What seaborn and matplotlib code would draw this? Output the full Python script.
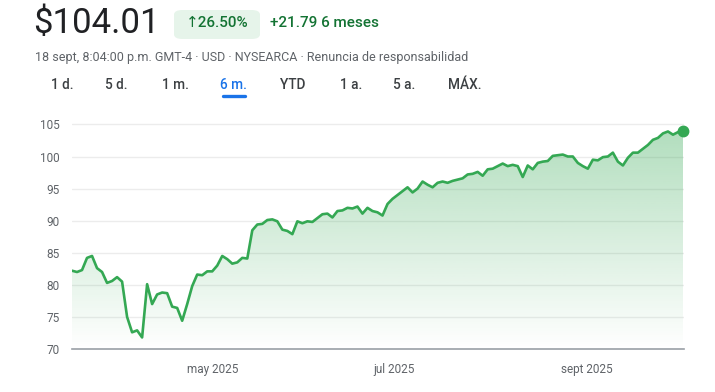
import matplotlib
matplotlib.use("Agg")
import matplotlib.pyplot as plt
import numpy as np
import pandas as pd
import seaborn as sns
from matplotlib.patches import FancyBboxPatch

# Closing prices, roughly one reading every couple of trading days
prices = [
    82.2, 82.0, 82.3, 84.2, 84.5, 82.6, 82.0, 80.3, 80.6, 81.2,
    80.5, 75.0, 72.6, 72.9, 71.8, 80.1, 77.0, 78.5, 78.8, 78.7,
    76.6, 76.4, 74.4, 77.0, 79.8, 81.6, 81.5, 82.1, 82.1, 83.0,
    84.5, 84.0, 83.3, 83.5, 84.2, 84.1, 88.5, 89.4, 89.5, 90.1,
    90.2, 89.9, 88.6, 88.4, 87.9, 89.9, 89.6, 89.9, 89.8, 90.4,
    91.0, 91.1, 90.5, 91.5, 91.6, 92.0, 91.9, 92.2, 91.1, 92.0,
    91.5, 91.3, 90.8, 92.6, 93.4, 94.0, 94.6, 95.2, 94.4, 95.0,
    96.1, 95.6, 95.2, 95.9, 96.1, 95.9, 96.2, 96.4, 96.6, 97.2,
    97.3, 97.6, 97.0, 98.0, 98.1, 98.5, 98.9, 98.5, 98.7, 98.5,
    96.8, 98.6, 98.0, 99.0, 99.2, 99.3, 100.1, 100.2, 100.3, 100.0,
    100.0, 99.0, 98.5, 98.1, 99.5, 99.4, 99.9, 100.0, 100.6, 99.2,
    98.6, 99.8, 100.6, 100.6, 101.2, 101.8, 102.6, 102.9, 103.6, 103.9,
    103.4, 103.8, 104.01,
]
month_ticks = [28, 64.4, 102.8]
month_labels = ["may 2025", "jul 2025", "sept 2025"]
y_ticks = [70, 75, 80, 85, 90, 95, 100, 105]
tabs = ["1 d.", "5 d.", "1 m.", "6 m.", "YTD", "1 a.", "5 a.", "MÁX."]

GREEN = "#34a853"
DARK_GREEN = "#137333"
GREY = "#5f6368"
BLUE = "#1a73e8"

df = pd.DataFrame({"idx": np.arange(len(prices)), "price": prices})

sns.set_style("white")
plt.rcParams["font.family"] = ["Roboto", "DejaVu Sans"]

W, H = 715, 392
fig = plt.figure(figsize=(W / 100, H / 100), dpi=100)
ax = fig.add_axes([72 / W, 43 / H, (684 - 72) / W, (349 - 118) / H])

# Gradient fill under the line
fill = ax.fill_between(df["idx"], df["price"], 70, color="none", lw=0)
grad = np.zeros((256, 1, 4))
grad[:, 0, :3] = matplotlib.colors.to_rgb(GREEN)
grad[:, 0, 3] = np.linspace(0.38, 0.0, 256)
img = ax.imshow(grad, aspect="auto", origin="upper",
                extent=[0, len(prices) - 1, 70, max(prices)], zorder=1)
img.set_clip_path(fill.get_paths()[0], transform=ax.transData)

sns.lineplot(data=df, x="idx", y="price", ax=ax, color=GREEN, lw=1.9, zorder=3)
# last price marker, drawn outside the axes clip so it stays round
ax.plot(df["idx"].iloc[-1], df["price"].iloc[-1], "o", color=GREEN, ms=7.5,
        zorder=4, clip_on=False)

ax.set_xlim(0, len(prices) - 0.8)
ax.set_ylim(70, 106)
ax.set_yticks(y_ticks)
ax.set_yticklabels([str(t) for t in y_ticks], color=GREY, fontsize=8.5)
ax.set_xticks(month_ticks)
ax.set_xticklabels(month_labels, color=GREY, fontsize=8.5)
ax.tick_params(axis="y", length=0, pad=9)
ax.tick_params(axis="x", length=4, width=1.5, color="#5f6368", pad=6)
for y in y_ticks[1:]:
    ax.axhline(y, color="#ececec", lw=1, zorder=0)
sns.despine(ax=ax, left=True, top=True, right=True)
ax.spines["bottom"].set_color("#9aa0a6")
ax.spines["bottom"].set_linewidth(1.2)
ax.set_xlabel("")
ax.set_ylabel("")


def fx(px):
    return px / W


def fy(py):
    return 1 - py / H


# Header
fig.text(fx(33), fy(23), "$104.01", fontsize=25, color="#202124", va="center")
badge = FancyBboxPatch((fx(174), fy(39)), fx(86), 29 / H,
                       boxstyle="round,pad=0,rounding_size=0.012",
                       transform=fig.transFigure, fc="#e6f4ea", ec="none")
fig.patches.append(badge)
fig.text(fx(217), fy(23), "↑26.50%", fontsize=11, color=DARK_GREEN,
         va="center", ha="center", fontweight="medium")
fig.text(fx(270), fy(23), "+21.79 6 meses", fontsize=11, color=DARK_GREEN,
         va="center", fontweight="medium")
fig.text(fx(35), fy(57),
         "18 sept, 8:04:00 p.m. GMT-4 · USD · NYSEARCA · Renuncia de responsabilidad",
         fontsize=9.0, color=GREY, va="center")

tab_x = [51, 105, 162, 220, 280, 340, 393, 448]
for label, x in zip(tabs, tab_x):
    fig.text(fx(x), fy(85), label, fontsize=9.8, va="center",
             color=BLUE if label == "6 m." else "#3c4043", fontweight="medium")
fig.add_artist(plt.Line2D([fx(223), fx(245)], [fy(95.5), fy(95.5)],
                          color=BLUE, lw=2.4, solid_capstyle="round"))

fig.savefig("out.png", dpi=100, facecolor="white")
